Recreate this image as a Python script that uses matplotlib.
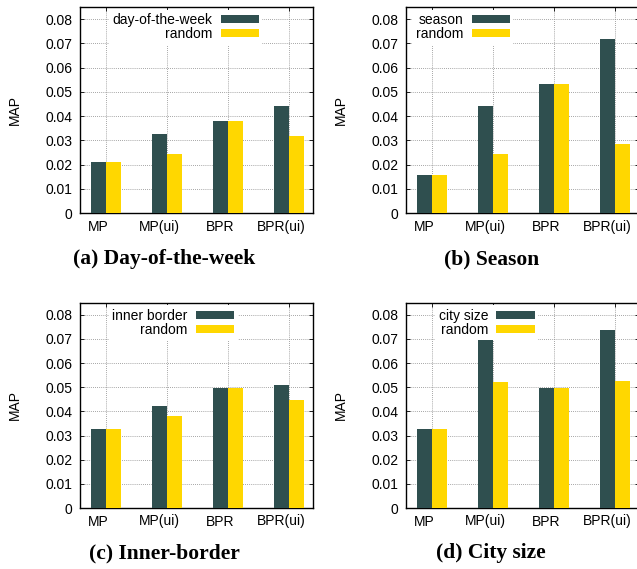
import matplotlib
matplotlib.use("Agg")
import matplotlib.pyplot as plt
from matplotlib.transforms import ScaledTranslation
import numpy as np

categories = ["MP", "MP(ui)", "BPR", "BPR(ui)"]

dow_context = [0.0209, 0.0327, 0.0378, 0.0441]
dow_random = [0.0209, 0.0242, 0.0378, 0.0319]

season_context = [0.0157, 0.0440, 0.0531, 0.0718]
season_random = [0.0157, 0.0245, 0.0531, 0.0286]

border_context = [0.0326, 0.0422, 0.0498, 0.0511]
border_random = [0.0326, 0.0382, 0.0498, 0.0449]

city_context = [0.0326, 0.0708, 0.0498, 0.0735]
city_random = [0.0326, 0.0520, 0.0498, 0.0526]

context_labels = ["day-of-the-week", "season", "inner border", "city size"]
captions = ["(a) Day-of-the-week", "(b) Season", "(c) Inner-border", "(d) City size"]
yticks = [0, 0.01, 0.02, 0.03, 0.04, 0.05, 0.06, 0.07, 0.08]
ytick_labels = ["0", "0.01", "0.02", "0.03", "0.04", "0.05", "0.06", "0.07", "0.08"]

DARK = "#2f4f4f"
GOLD = "#ffd700"

W, H = 637, 569
fig = plt.figure(figsize=(W / 100, H / 100), dpi=100)
plt.rcParams['font.family'] = ['Liberation Sans', 'DejaVu Sans']

# axes pixel boxes: (left, top, right, bottom)
boxes = [(80, 7, 313, 213), (406, 7, 639, 213),
         (80, 302.7, 313, 508), (406, 302.7, 639, 508)]
legend_x = [0.795, 0.472, 0.688, 0.579]
caption_pos = [(164, 259), (491.5, 259), (164.5, 553), (491, 553)]

data = [(dow_context, dow_random), (season_context, season_random),
        (border_context, border_random), (city_context, city_random)]

FS = 10
x = np.arange(len(categories))
bw = 0.25
shift = ScaledTranslation(-7.5 / 100, -6.5 / 100, fig.dpi_scale_trans)
for i, (l, t, r, b) in enumerate(boxes):
    ax = fig.add_axes([l / W, 1 - b / H, (r - l) / W, (b - t) / H])
    ctx, rnd = data[i]
    ax.bar(x - bw / 2, ctx, width=bw, color=DARK, label=context_labels[i], zorder=3)
    ax.bar(x + bw / 2, rnd, width=bw, color=GOLD, label="random", zorder=3)
    ax.set_xlim(-0.425, 3.395)
    ax.set_ylim(0, 0.085)
    ax.set_xticks(x)
    ax.set_xticklabels([])
    for xi, cat in zip(x, categories):
        ax.text(xi, 0, cat, fontsize=FS, ha="center", va="top",
                transform=ax.get_xaxis_transform() + shift, clip_on=False)
    ax.set_yticks(yticks)
    ax.set_yticklabels(ytick_labels, fontsize=FS)
    ax.grid(True, linestyle=(0, (1, 1.5)), color="#888888", linewidth=0.6, zorder=0)
    ax.tick_params(direction="in", top=True, right=True, length=3, width=0.6)
    ax.tick_params(axis="y", pad=5.4)
    for s in ax.spines.values():
        s.set_linewidth(1.0)
    ax.set_ylabel("MAP", fontsize=FS, labelpad=17)
    leg = ax.legend(loc="upper right", bbox_to_anchor=(legend_x[i], 1.0),
                    markerfirst=False, frameon=True, fancybox=False,
                    edgecolor="none", facecolor="white", framealpha=1,
                    fontsize=FS, handlelength=2.75, handleheight=0.5,
                    labelspacing=0.0, borderpad=0.25, handletextpad=0.6,
                    borderaxespad=0.2)
    leg.set_zorder(5)
    cx, cy = caption_pos[i]
    fig.text(cx / W, 1 - cy / H, captions[i], ha="center", va="center",
             fontsize=15.5, fontweight="bold", family=["Liberation Serif", "DejaVu Serif"])

fig.savefig("out.png", dpi=100)
